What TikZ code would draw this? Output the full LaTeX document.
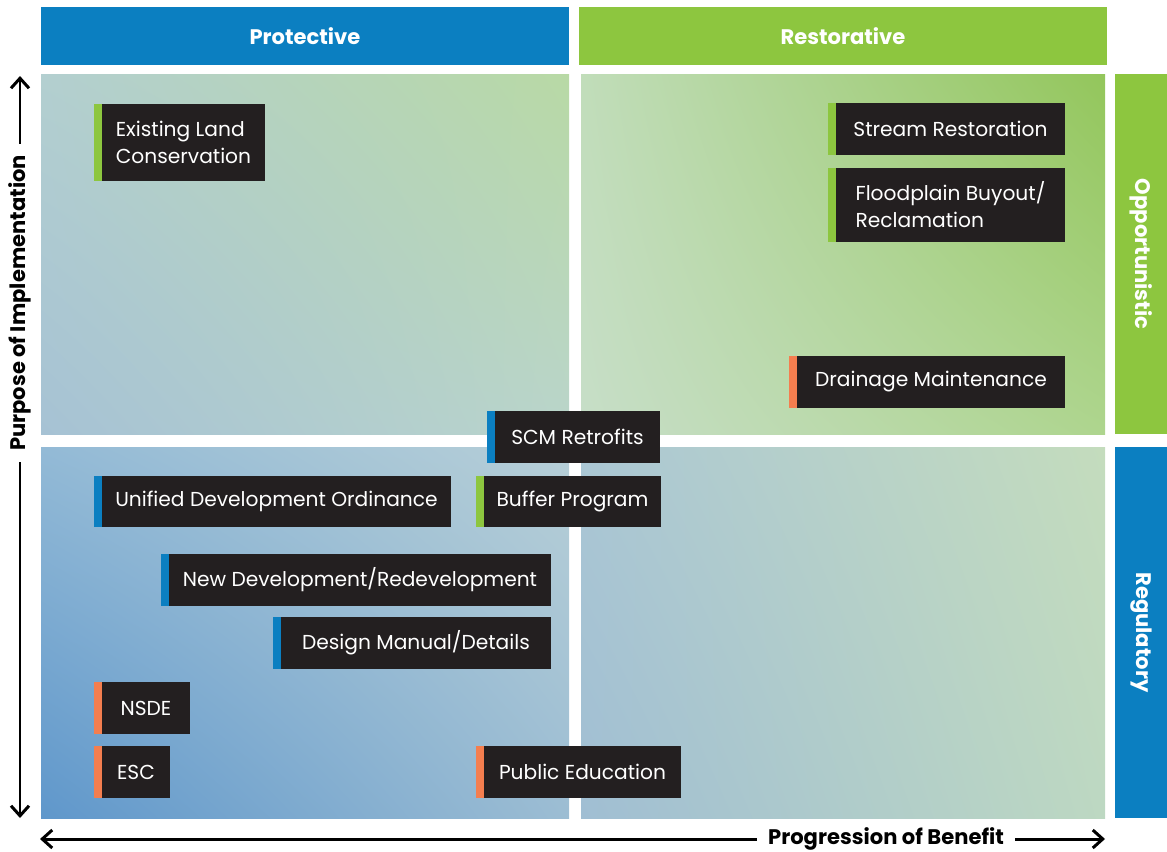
\documentclass[tikz,border=0pt]{standalone}
\usepackage{fontspec}
\setmainfont{Poppins}
\usetikzlibrary{positioning}
\usetikzlibrary{arrows.meta}
\usetikzlibrary{shadings}

\definecolor{hblue}{HTML}{0B7FC1}
\definecolor{hgreen}{HTML}{8DC63F}
\definecolor{barorange}{HTML}{F47E4F}
\definecolor{boxblack}{HTML}{231F20}
% quadrant corners
\definecolor{tlul}{HTML}{B3CFD0}
\definecolor{tlur}{HTML}{B8D9A5}
\definecolor{tlll}{HTML}{A6C2D4}
\definecolor{tllr}{HTML}{BAD5CB}
\definecolor{trul}{HTML}{C1DDBA}
\definecolor{trur}{HTML}{93C65B}
\definecolor{trll}{HTML}{C7DEC8}
\definecolor{trlr}{HTML}{AED58E}
\definecolor{blul}{HTML}{93BAD6}
\definecolor{blur}{HTML}{B7CFD7}
\definecolor{blll}{HTML}{5F97CB}
\definecolor{bllr}{HTML}{9CBDD3}
\definecolor{brul}{HTML}{ABC7D4}
\definecolor{brur}{HTML}{C4DCBD}
\definecolor{brll}{HTML}{A0BED3}
\definecolor{brlr}{HTML}{BDD8C2}

\begin{document}
\begin{tikzpicture}[x=0.02cm,y=-0.02cm,>={Straight Barb[length=0.2cm,width=0.36cm]},
		line width=0.06cm]
		\tikzstyle{header}=[text=white,font=\bfseries\fontsize{12}{14}\selectfont,inner sep=0pt,outer sep=0pt]
		\tikzstyle{tag}=[fill=boxblack,text=white,anchor=north west,inner sep=0pt,outer sep=0pt,align=left,
		font=\fontsize{11.5}{15.4}\selectfont]
		\tikzstyle{axis}=[font=\bfseries\fontsize{12}{14}\selectfont,inner sep=0.2cm]
		
		\useasboundingbox (0,0) rectangle (1167,852);
		
		% quadrants
		\shade[upper left=tlul,upper right=tlur,lower left=tlll,lower right=tllr] (41,74) rectangle (569,434);
		\shade[upper left=trul,upper right=trur,lower left=trll,lower right=trlr] (581,74) rectangle (1105,434);
		\shade[upper left=blul,upper right=blur,lower left=blll,lower right=bllr] (41,447) rectangle (569,818);
		\shade[upper left=brul,upper right=brur,lower left=brll,lower right=brlr] (581,447) rectangle (1105,818);
		
		% headers
		\node[header,fill=hblue,anchor=north west,minimum width=10.56cm,minimum height=1.16cm] (prot) at (41,7) {Protective};
		\node[header,fill=hgreen,anchor=north west,minimum width=10.56cm,minimum height=1.16cm] (rest) at (579,7) {Restorative};
		\node[header,fill=hgreen,rotate=-90,minimum width=7.2cm,minimum height=1.04cm] (opp) at (1141,254) {Opportunistic};
		\node[header,fill=hblue,rotate=-90,minimum width=7.42cm,minimum height=1.04cm] (reg) at (1141,632.5) {Regulatory};
		
		% axes
		\node[axis,rotate=90] (purpose) at (20,303) {Purpose of Implementation};
		\coordinate (ytop) at (20,76);
		\coordinate (ybot) at (20,818);
		\draw[->] (purpose.east) -- (ytop);
		\draw[->] (purpose.west) -- (ybot);
		
		\node[axis] (benefit) at (886,839) {Progression of Benefit};
		\coordinate (xleft) at (40,839);
		\coordinate (xright) at (1105,839);
		\draw[->] (benefit.west) -- (xleft);
		\draw[->] (benefit.east) -- (xright);
		
		% programs
		\node[tag,minimum width=3.26cm,minimum height=1.54cm] (elc)  at (102,104) {Existing Land\\Conservation};
		\node[tag,minimum width=4.58cm,minimum height=1.04cm] (sr)   at (836,103) {Stream Restoration};
		\node[tag,minimum width=4.58cm,minimum height=1.48cm] (fb)   at (836,168) {Floodplain Buyout/\\Reclamation};
		\node[tag,minimum width=5.36cm,minimum height=1.04cm] (dm)   at (797,356) {Drainage Maintenance};
		\node[tag,minimum width=3.30cm,minimum height=1.04cm] (scm)  at (495,411) {SCM Retrofits};
		\node[tag,minimum width=6.98cm,minimum height=1.02cm] (udo)  at (102,476) {Unified Development Ordinance};
		\node[tag,minimum width=3.54cm,minimum height=1.02cm] (buf)  at (484,476) {Buffer Program};
		\node[tag,minimum width=7.64cm,minimum height=1.04cm] (ndr)  at (169,554) {New Development/Redevelopment};
		\node[tag,minimum width=5.40cm,minimum height=1.04cm] (dmd)  at (281,617) {Design Manual/Details};
		\node[tag,minimum width=1.76cm,minimum height=1.04cm] (nsde) at (102,682) {NSDE};
		\node[tag,minimum width=1.36cm,minimum height=1.04cm] (esc)  at (102,746) {ESC};
		\node[tag,minimum width=3.94cm,minimum height=1.04cm] (pe)   at (484,746) {Public Education};
		
		\foreach \n/\c in {elc/hgreen,sr/hgreen,fb/hgreen,dm/barorange,scm/hblue,udo/hblue,buf/hgreen,
			ndr/hblue,dmd/hblue,nsde/barorange,esc/barorange,pe/barorange}
		\fill[\c] ([xshift=-0.16cm]\n.north west) rectangle (\n.south west);
		
\end{tikzpicture}
\end{document}
